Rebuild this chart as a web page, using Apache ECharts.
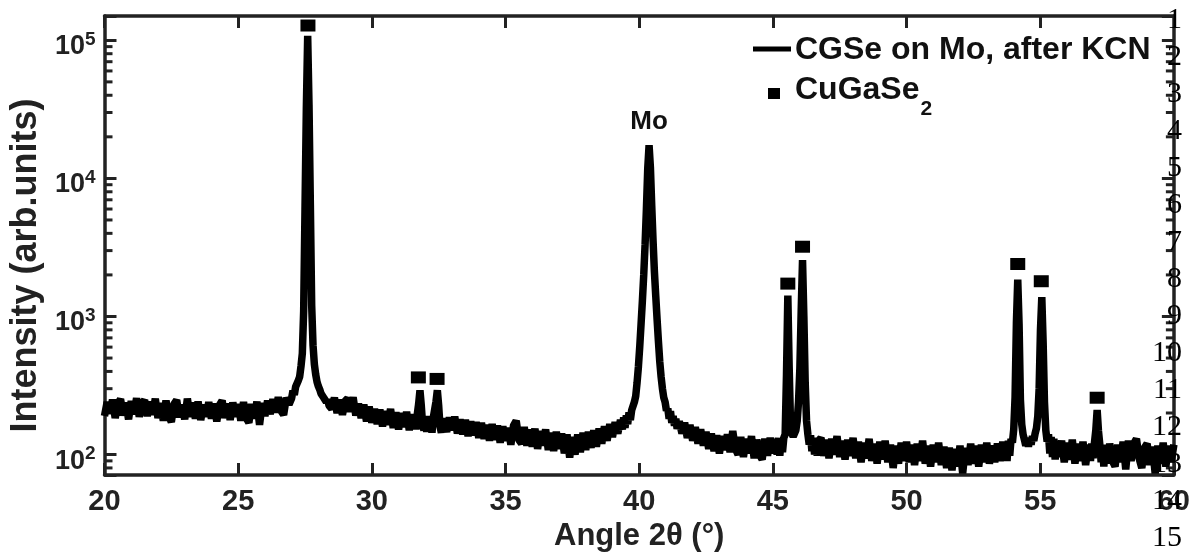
<!DOCTYPE html>
<html>
<head>
<meta charset="utf-8">
<script src="https://cdn.jsdelivr.net/npm/echarts@6/dist/echarts.min.js"></script>
<style>
html,body{margin:0;padding:0;background:#fff;}
#chart{width:1193px;height:557px;}
</style>
</head>
<body>
<div id="chart"></div>
<script>
// ---- Data: [angle 2θ (°), intensity (arb. units)] ----
const scan_20_27 = [
[20.0,190],[20.1,240],[20.2,200],[20.3,250],[20.4,184],[20.5,232],[20.6,252],[20.7,192],[20.8,238],[20.9,180],
[21.0,244],[21.1,196],[21.2,256],[21.3,188],[21.4,234],[21.5,248],[21.6,190],[21.7,242],[21.8,194],[21.9,254],
[22.0,184],[22.1,236],[22.2,176],[22.3,246],[22.4,192],[22.5,172],[22.6,232],[22.7,248],[22.8,186],[22.9,230],
[23.0,180],[23.1,254],[23.2,188],[23.3,238],[23.4,182],[23.5,242],[23.6,178],[23.7,230],[23.8,188],[23.9,240],
[24.0,182],[24.1,234],[24.2,174],[24.3,228],[24.4,246],[24.5,184],[24.6,234],[24.7,178],[24.8,238],[24.9,188],
[25.0,232],[25.1,176],[25.2,240],[25.3,184],[25.4,170],[25.5,232],[25.6,182],[25.7,242],[25.8,164],[25.9,236],
[26.0,190],[26.1,246],[26.2,196],[26.3,252],[26.4,202],[26.5,260],[26.6,208],[26.7,194],[26.8,258],[26.9,230]
];
const peak_27_6 = [
[27.00,256],[27.05,290],[27.10,270],[27.15,310],[27.20,306],[27.25,344],[27.30,366],[27.35,436],[27.40,540],
[27.45,1100],[27.50,6000],[27.55,32000],[27.60,108000],[27.65,34000],[27.70,6500],[27.75,1200],[27.80,620],
[27.85,450],[27.90,380],[27.95,336],[28.00,312],[28.05,296],[28.10,276],[28.15,280],[28.20,258],[28.25,262],
[28.30,240],[28.35,250],[28.40,226]
];
const scan_28_31 = [
[28.5,214],[28.6,258],[28.7,200],[28.8,250],[28.9,194],[29.0,244],[29.1,256],[29.2,204],[29.3,260],[29.4,192],
[29.5,234],[29.6,184],[29.7,230],[29.8,174],[29.9,222],[30.0,170],[30.1,214],[30.2,166],[30.3,212],[30.4,160],
[30.5,206],[30.6,164],[30.7,214],[30.8,156],[30.9,202],[31.0,152],[31.1,200],[31.2,158],[31.3,204],[31.4,150],
[31.5,196]
];
const peaks_32 = [
[31.55,156],[31.60,192],[31.65,152],[31.70,196],[31.75,232],[31.80,292],[31.85,226],[31.90,164],[31.95,150],
[32.00,188],[32.05,146],[32.10,190],[32.15,148],[32.20,184],[32.25,144],[32.30,186],[32.35,186],[32.40,242],
[32.45,292],[32.50,226],[32.55,160],[32.60,144],[32.65,182]
];
const scan_32_39 = [
[32.7,182],[32.8,146],[32.9,186],[33.0,150],[33.1,188],[33.2,142],[33.3,180],[33.4,140],[33.5,178],[33.6,136],
[33.7,174],[33.8,138],[33.9,172],[34.0,132],[34.1,170],[34.2,130],[34.3,164],[34.4,126],[34.5,166],[34.6,128],
[34.7,162],[34.8,122],[34.9,160],[35.0,126],[35.1,156],[35.2,118],[35.3,162],[35.4,176],[35.5,128],[35.6,120],
[35.7,158],[35.8,116],[35.9,152],[36.0,114],[36.1,154],[36.2,110],[36.3,148],[36.4,116],[36.5,152],[36.6,108],
[36.7,144],[36.8,106],[36.9,146],[37.0,110],[37.1,142],[37.2,102],[37.3,140],[37.4,95],[37.5,134],[37.6,100],
[37.7,140],[37.8,104],[37.9,144],[38.0,108],[38.1,146],[38.2,112],[38.3,150],[38.4,114],[38.5,154],[38.6,120],
[38.7,160],[38.8,126],[38.9,166],[39.0,134],[39.1,172],[39.2,142],[39.3,178]
];
const peak_Mo = [
[39.37,152],[39.42,186],[39.47,156],[39.52,192],[39.57,166],[39.62,202],[39.67,178],[39.72,210],[39.77,206],
[39.82,240],[39.87,265],[39.92,330],[39.97,430],[40.02,600],[40.07,880],[40.12,1300],[40.17,2000],[40.22,3300],
[40.27,6000],[40.32,11800],[40.37,17400],[40.42,12000],[40.47,6300],[40.52,3500],[40.57,2100],[40.62,1400],
[40.67,950],[40.72,660],[40.77,470],[40.82,365],[40.87,300],[40.92,258],[40.97,240],[41.02,208],[41.07,216],
[41.12,182],[41.17,206],[41.22,170],[41.27,190],[41.32,162],[41.37,182],[41.42,154]
];
const scan_41_45 = [
[41.5,174],[41.6,142],[41.7,170],[41.8,132],[41.9,164],[42.0,126],[42.1,158],[42.2,120],[42.3,152],[42.4,116],
[42.5,146],[42.6,110],[42.7,142],[42.8,106],[42.9,138],[43.0,102],[43.1,136],[43.2,108],[43.3,140],[43.4,104],
[43.5,148],[43.6,110],[43.7,100],[43.8,134],[43.9,96],[44.0,130],[44.1,102],[44.2,136],[44.3,94],[44.4,128],
[44.5,100],[44.6,92],[44.7,130],[44.8,98],[44.9,132],[45.0,102],[45.1,130]
];
const peaks_46 = [
[45.16,100],[45.21,132],[45.26,98],[45.31,130],[45.36,104],[45.41,132],[45.46,140],[45.51,380],[45.56,1420],
[45.61,430],[45.66,170],[45.71,142],[45.76,135],[45.81,138],[45.86,150],[45.91,175],[45.96,240],[46.01,420],
[46.06,1100],[46.11,2560],[46.16,1000],[46.21,330],[46.26,175],[46.31,140],[46.36,118],[46.41,138],[46.46,106],
[46.51,132],[46.56,100],[46.61,130],[46.66,98],[46.71,126]
];
const scan_46_53 = [
[46.8,132],[46.9,98],[47.0,128],[47.1,94],[47.2,130],[47.3,100],[47.4,136],[47.5,96],[47.6,126],[47.7,92],
[47.8,128],[47.9,98],[48.0,132],[48.1,94],[48.2,124],[48.3,88],[48.4,122],[48.5,94],[48.6,130],[48.7,90],
[48.8,120],[48.9,86],[49.0,124],[49.1,92],[49.2,126],[49.3,88],[49.4,118],[49.5,80],[49.6,116],[49.7,86],
[49.8,122],[49.9,90],[50.0,124],[50.1,88],[50.2,118],[50.3,84],[50.4,120],[50.5,90],[50.6,126],[50.7,86],
[50.8,116],[50.9,82],[51.0,118],[51.1,88],[51.2,122],[51.3,84],[51.4,114],[51.5,80],[51.6,112],[51.7,77],
[51.8,110],[51.9,82],[52.0,116],[52.1,73],[52.2,112],[52.3,84],[52.4,120],[52.5,86],[52.6,116],[52.7,82],
[52.8,118],[52.9,88],[53.0,122],[53.1,86],[53.2,116],[53.3,88],[53.4,120],[53.5,90],[53.6,124]
];
const peaks_54 = [
[53.66,94],[53.71,124],[53.76,90],[53.81,126],[53.86,98],[53.91,130],[53.96,122],[54.01,152],[54.06,260],
[54.11,900],[54.16,1850],[54.21,880],[54.26,250],[54.31,165],[54.36,140],[54.41,128],[54.46,116],[54.51,130],
[54.56,114],[54.61,132],[54.66,118],[54.71,136],[54.76,126],[54.81,142],[54.86,155],[54.91,190],[54.96,300],
[55.01,800],[55.06,1380],[55.11,650],[55.16,240],[55.21,150],[55.26,124],[55.31,140],[55.36,102],[55.41,134],
[55.46,96],[55.51,130],[55.56,92],[55.61,124]
];
const scan_55_56 = [
[55.7,96],[55.8,126],[55.9,88],[56.0,122],[56.1,92],[56.2,128],[56.3,86],[56.4,120],[56.5,90],[56.6,124],
[56.7,84],[56.8,118]
];
const peak_57 = [
[56.88,90],[56.93,120],[56.98,94],[57.03,122],[57.08,150],[57.13,210],[57.18,148],[57.23,118],[57.28,88],
[57.33,118],[57.38,82],[57.43,116]
];
const scan_57_60 = [
[57.5,86],[57.6,120],[57.7,90],[57.8,82],[57.9,118],[58.0,88],[58.1,124],[58.2,78],[58.3,126],[58.4,90],
[58.5,120],[58.6,130],[58.7,94],[58.8,80],[58.9,112],[59.0,120],[59.1,84],[59.2,114],[59.3,73],[59.4,116],
[59.5,86],[59.6,122],[59.7,82],[59.8,116],[59.9,88],[60.0,118]
];
// CuGaSe2 reference markers
const cgseMarkers = [
[27.61,128000],[31.74,362],[32.44,353],[45.56,1730],[46.11,3200],[54.16,2400],[55.04,1800],[57.13,258]
];
// Axis ticks / labels
const xTicks = [20, 25, 30, 35, 40, 45, 50, 55, 60];
const yMinorTicks = [80, 90, 200, 300, 400, 500, 600, 700, 800, 900,
  2000, 3000, 4000, 5000, 6000, 7000, 8000, 9000,
  20000, 30000, 40000, 50000, 60000, 70000, 80000, 90000];
const lineNumbers = ['1','2','3','4','5','6','7','8','9','10','11','12','13','14','15'];

const seriesName = 'CGSe on Mo, after KCN';
const markerName = 'CuGaSe2';

const scan = [].concat(scan_20_27, peak_27_6, scan_28_31, peaks_32, scan_32_39, peak_Mo,
  scan_41_45, peaks_46, scan_46_53, peaks_54, scan_55_56, peak_57, scan_57_60);

const FONT = 'Liberation Sans, Arial, Helvetica, sans-serif';
const AX = '#222';

const chart = echarts.init(document.getElementById('chart'), null, {renderer: 'canvas'});

function baseX(pos, showLabel) {
  return {
    type: 'value', min: xTicks[0], max: xTicks[xTicks.length - 1], interval: 5,
    position: pos,
    axisLine: {show: true, onZero: false, lineStyle: {color: AX, width: 3.5}},
    axisTick: {show: true, inside: true, length: 12, lineStyle: {color: AX, width: 3}},
    splitLine: {show: false},
    axisLabel: {show: showLabel, fontSize: 29, fontWeight: 'bold', color: AX, fontFamily: FONT, margin: 12,
      showMinLabel: true, showMaxLabel: true}
  };
}
function baseY(pos, showLabel) {
  return {
    type: 'log', logBase: 10, min: 71, max: 150000,
    position: pos,
    axisLine: {show: true, onZero: false, lineStyle: {color: AX, width: 3.5}},
    axisTick: {show: true, inside: true, length: 12, lineStyle: {color: AX, width: 3}},
    splitLine: {show: false},
    minorTick: {show: false},
    axisLabel: {
      show: showLabel, margin: 9, color: AX, fontFamily: FONT,
      padding: [10, 0, 0, 0],
      formatter: function (v) {
        const e = Math.log10(v);
        const r = Math.round(e);
        if (Math.abs(e - r) > 1e-6) return '';
        return '{b|10}{s|' + r + '}';
      },
      rich: {
        b: {fontSize: 27, fontWeight: 'bold', color: AX, fontFamily: FONT, lineHeight: 30, verticalAlign: 'bottom'},
        s: {fontSize: 19, fontWeight: 'bold', color: AX, fontFamily: FONT, lineHeight: 16, verticalAlign: 'top'}
      }
    }
  };
}

const xBottom = baseX('bottom', true);
xBottom.name = 'Angle 2θ (°)';
xBottom.nameLocation = 'middle';
xBottom.nameGap = 37;
xBottom.nameTextStyle = {fontSize: 31, fontWeight: 'bold', color: AX, fontFamily: FONT};

const yLeft = baseY('left', true);
yLeft.name = 'Intensity (arb.units)';
yLeft.nameLocation = 'middle';
yLeft.nameGap = 54;
yLeft.nameRotate = 90;
yLeft.nameTextStyle = {fontSize: 36, fontWeight: 'bold', color: AX, fontFamily: FONT, padding: [0, 40, 0, 0]};

// measure legend text so the subscript follows it
const mctx = document.createElement('canvas').getContext('2d');
mctx.font = 'bold 32px Liberation Sans';
const cuW = mctx.measureText('CuGaSe').width;

const graphics = [];
graphics.push({type: 'line', shape: {x1: 753, y1: 49, x2: 791, y2: 49}, style: {stroke: '#000', lineWidth: 5}, z: 100});
graphics.push({type: 'text', x: 795, y: 50, style: {text: seriesName, font: 'bold 32px ' + FONT, fill: '#111', verticalAlign: 'middle', textAlign: 'left'}, z: 100});
graphics.push({type: 'rect', shape: {x: 768, y: 88, width: 12, height: 11}, style: {fill: '#000'}, z: 100});
graphics.push({type: 'text', x: 795, y: 90, style: {text: 'CuGaSe', font: 'bold 32px ' + FONT, fill: '#111', verticalAlign: 'middle', textAlign: 'left'}, z: 100});
graphics.push({type: 'text', x: 796 + cuW, y: 109, style: {text: '2', font: 'bold 21px ' + FONT, fill: '#111', verticalAlign: 'middle', textAlign: 'left'}, z: 100});
lineNumbers.forEach(function (t, i) {
  graphics.push({type: 'text', x: 1182, y: 20 + i * 37, style: {
    text: t, font: '30px Liberation Serif, Times New Roman, serif', fill: '#000',
    textAlign: 'right', verticalAlign: 'middle'}, z: 200});
});

const option = {
  backgroundColor: '#ffffff',
  animation: false,
  textStyle: {fontFamily: FONT},
  grid: {left: 102, right: 19, top: 16, bottom: 73, containLabel: false},
  xAxis: [xBottom, baseX('top', false)],
  yAxis: [yLeft, baseY('right', false)],
  series: [
    {
      name: seriesName, type: 'line', data: scan, xAxisIndex: 0, yAxisIndex: 0,
      symbol: 'none', showSymbol: false, sampling: null, clip: true,
      lineStyle: {color: '#000', width: 7.5, join: 'bevel', cap: 'butt'},
      emphasis: {disabled: true},
      markPoint: {
        symbol: 'rect', symbolSize: 0, silent: true,
        data: [{coord: [40.37, 17400], value: 'Mo'}],
        label: {show: true, position: 'top', distance: 10, formatter: 'Mo',
          fontSize: 26, fontWeight: 'bold', color: '#111', fontFamily: FONT}
      }
    },
    {
      name: markerName, type: 'scatter', data: cgseMarkers, xAxisIndex: 0, yAxisIndex: 0,
      symbol: 'rect', symbolSize: [15, 12], itemStyle: {color: '#000', opacity: 1}, z: 5,
      emphasis: {disabled: true}
    },
    {
      name: 'minorTicks', type: 'custom', xAxisIndex: 0, yAxisIndex: 0, silent: true, clip: false,
      data: yMinorTicks.map(function (v) { return [20, v]; }),
      renderItem: function (params, api) {
        const v = api.value(1);
        const l = api.coord([xTicks[0], v]);
        const r = api.coord([xTicks[xTicks.length - 1], v]);
        return {type: 'group', children: [
          {type: 'line', shape: {x1: l[0], y1: l[1], x2: l[0] + 8, y2: l[1]}, style: {stroke: AX, lineWidth: 3}},
          {type: 'line', shape: {x1: r[0], y1: r[1], x2: r[0] - 8, y2: r[1]}, style: {stroke: AX, lineWidth: 3}}
        ]};
      }
    }
  ],
  graphic: graphics
};
chart.setOption(option);
</script>
</body>
</html>
